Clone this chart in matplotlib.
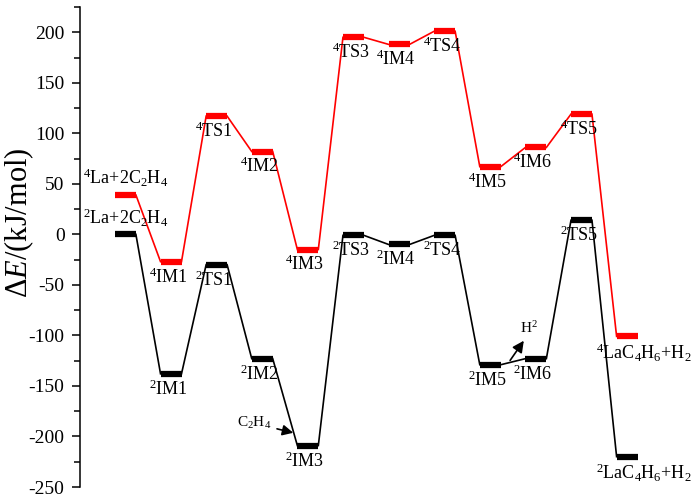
import numpy as np
import matplotlib
matplotlib.use('Agg')
import matplotlib.pyplot as plt
from matplotlib.ticker import MultipleLocator

plt.rcParams['font.family'] = ['Liberation Serif', 'DejaVu Serif']
plt.rcParams['mathtext.fontset'] = 'custom'
plt.rcParams['mathtext.rm'] = 'Liberation Serif'
plt.rcParams['mathtext.it'] = 'Liberation Serif:italic'
plt.rcParams['axes.unicode_minus'] = False

# stage names and relative energies (kJ/mol)
stages = ['La+2C$_2$H$_4$', 'IM1', 'TS1', 'IM2', 'IM3', 'TS3', 'IM4',
          'TS4', 'IM5', 'IM6', 'TS5', 'LaC$_4$H$_6$+H$_2$']
doublet = [0, -138, -30, -123, -209, -1, -10, -1, -129, -123, 14, -220]
quartet = [39, -27, 117, 82, -15, 195, 188, 201, 67, 86, 119, -101]

fig = plt.figure(figsize=(7, 5), dpi=100)
ax = fig.add_axes([0.114, 0.026, 0.847, 0.96])

x = np.arange(len(stages))
w = 0.23

def draw_path(energies, color, mult):
    for i, e in enumerate(energies):
        ax.plot([x[i] - w, x[i] + w], [e, e], color=color, lw=4.5,
                solid_capstyle='butt', zorder=3)
        if i < len(energies) - 1:
            ax.plot([x[i] + w, x[i + 1] - w], [e, energies[i + 1]],
                    color=color, lw=1.2, zorder=2)
    for i, e in enumerate(energies):
        lab = '$^{%d}$' % mult + stages[i]
        if i == 0:
            ax.annotate(lab, (x[i], e), xytext=(0, 4), textcoords='offset points',
                        ha='center', va='bottom', fontsize=13)
        elif i == len(energies) - 1:
            ax.annotate(lab, (x[i], e), xytext=(12, -4), textcoords='offset points',
                        ha='center', va='top', fontsize=13)
        else:
            ax.annotate(lab, (x[i], e), xytext=(-2, -4), textcoords='offset points',
                        ha='center', va='top', fontsize=13)

draw_path(quartet, 'red', 4)
draw_path(doublet, 'black', 2)

# small arrows
ax.annotate('C$_2$H$_4$', xy=(3.74, -197), xytext=(2.45, -187),
            fontsize=11, ha='left', va='center',
            arrowprops=dict(arrowstyle='-|>', color='black', lw=1.2,
                            mutation_scale=16))
ax.annotate('H$^2$', xy=(8.75, -104), xytext=(8.65, -93),
            fontsize=11, ha='left', va='center')
ax.annotate('', xy=(8.77, -103), xytext=(8.4, -127),
            arrowprops=dict(arrowstyle='-|>', color='black', lw=1.2,
                            mutation_scale=17))

ax.set_xlim(-1, 12)
ax.set_ylim(-250, 225)
ax.yaxis.set_minor_locator(MultipleLocator(25))
ax.set_yticks(np.arange(-250, 201, 50))
ax.tick_params(axis='y', which='major', direction='out', length=6, width=1.1,
               labelsize=14, pad=5)
ax.tick_params(axis='y', which='minor', direction='out', length=4, width=1.1)
ax.set_xticks([])
for s in ['top', 'right', 'bottom']:
    ax.spines[s].set_visible(False)
ax.spines['left'].set_linewidth(1.1)
ax.set_ylabel(r'$\Delta E$/(kJ/mol)', fontsize=22)
ax.yaxis.set_label_coords(-0.074, 0.55)

fig.savefig('out.png', dpi=100)
